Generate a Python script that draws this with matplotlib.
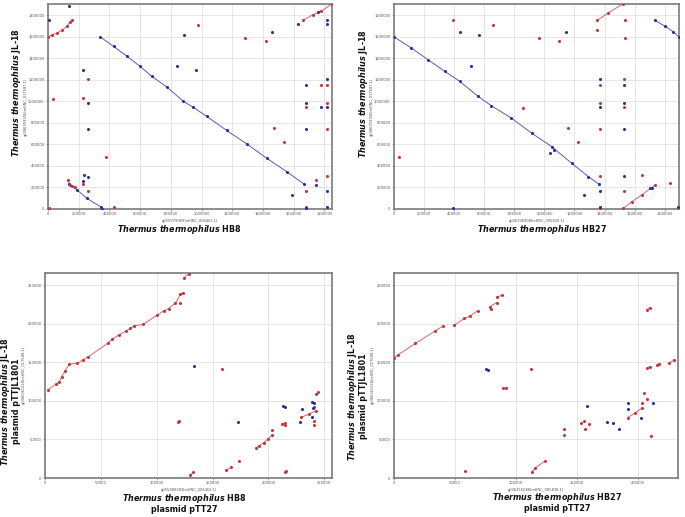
import matplotlib
matplotlib.use("Agg")
import matplotlib.pyplot as plt
from matplotlib.ticker import MultipleLocator, FuncFormatter
import numpy as np

plt.rcParams['font.family'] = ['DejaVu Sans']
plt.rcParams['mathtext.fontset'] = 'custom'
plt.rcParams['mathtext.it'] = 'DejaVu Sans:italic:bold'
plt.rcParams['mathtext.rm'] = 'DejaVu Sans:bold'

# genome lengths (bp)
len_hb8 = 1849742
len_hb27 = 1894877
len_jl18 = 1902595
len_pTT27_hb8 = 256992
len_pTT27_hb27 = 232605
len_pTTJL1801 = 265886

# ---- HB8 chromosome vs JL-18 chromosome (kb) ----
tl_red_segs = [
    ([0, 26, 58.5, 91, 123.5, 145, 156], [1597, 1616, 1634, 1659, 1696, 1740, 1752]),
    ([130, 141, 156, 178], [270, 223, 214, 202]),
    ([1662, 1727, 1781, 1851], [1752, 1805, 1836, 1907]),
]
tl_blue_segs = [
    ([340, 427, 514, 600, 676, 774, 882, 947, 1034, 1164, 1294, 1425, 1554, 1666],
     [1597, 1510, 1417, 1324, 1231, 1132, 999, 943, 859, 729, 605, 471, 347, 233]),
    ([134, 189, 254, 347, 351], [229, 177, 99, 16, 0]),
]
tl_red_x = [975, 1283, 1417, 258, 30, 225, 379, 225, 258, 4, 433, 1679, 1679, 1775, 1820,
            1820, 1820, 1820, 1744, 1679, 1474, 1539]
tl_red_y = [1706, 1588, 1563, 1206, 1023, 1026, 487, 229, 171, 12, 16, 171, 946, 1147, 1147,
            983, 744, 307, 267, 22, 750, 626]
tl_blue_x = [139, 4, 888, 1461, 1630, 1760, 1820, 1820, 839, 962, 225, 258, 258, 236, 258,
             225, 1586, 1679, 1679, 1679, 1775, 1820, 1820, 1820, 1744, 1679, 1820]
tl_blue_y = [1882, 1758, 1619, 1644, 1721, 1827, 1758, 1721, 1324, 1293, 1293, 983, 744, 316,
             301, 260, 130, 1147, 983, 744, 946, 1206, 946, 171, 226, 6, 22]

# ---- HB27 chromosome vs JL-18 chromosome (kb) ----
tr_red_segs = [
    ([1352, 1425, 1525], [1752, 1820, 1907]),
    ([1525, 1581, 1647, 1736], [6, 68, 130, 223]),
]
tr_blue_segs = [
    ([0, 115, 226, 337, 437, 559, 648, 781, 915, 1048, 1181, 1292, 1363],
     [1597, 1495, 1386, 1278, 1185, 1045, 958, 843, 704, 580, 425, 301, 229]),
    ([1732, 1803, 1858, 1895], [1752, 1696, 1644, 1597]),
]
tr_red_x = [393, 655, 966, 1099, 1348, 1536, 1536, 1532, 1370, 1370, 1532, 859, 1154, 1370,
            1221, 33, 1370, 1647, 1532, 1836, 1370]
tr_red_y = [1758, 1706, 1588, 1563, 1659, 1758, 1588, 1206, 1147, 983, 946, 936, 750, 744,
            626, 487, 307, 316, 171, 239, 12]
tr_blue_x = [437, 566, 1143, 515, 1370, 1532, 1532, 1370, 1532, 1037, 1066, 1532, 1370, 1265,
             389, 1370, 1891, 1703, 1714]
tr_blue_y = [1644, 1619, 1644, 1324, 1206, 1147, 983, 946, 744, 518, 549, 307, 171, 133,
             6, 22, 16, 192, 198]

# ---- HB8 pTT27 vs JL-18 pTTJL1801 (kb) ----
bl_red_segs = [
    ([2.4, 9.9, 12.9, 15, 18, 21.9, 29, 33.8, 38.9, 56, 59.9, 65.9, 72.8, 76.3, 79.9, 87.7,
      100.3, 106.3, 110.8, 116.8, 121.3, 123.7],
     [114.2, 122, 125, 131.5, 139.2, 147.8, 148.7, 153, 157.3, 174.6, 179.7, 185.3, 190.9,
      194, 197.4, 199.1, 211.2, 216.8, 219.8, 227.1, 238.3, 240.5]),
    ([124.3, 128.7], [259.5, 265]),
    ([119.2, 120.4], [72.4, 74.1]),
    ([130.2, 132.6], [4.3, 7.3]),
    ([161.7, 166.8], [9.9, 14.2]),
    ([188.6, 192, 196, 200, 203.6], [38.8, 42, 46, 51, 56]),
    ([212.6, 215], [70.3, 71.1]),
    ([215, 215.6], [7.8, 8.6]),
    ([229.6, 236, 242.5], [78.9, 82.5, 87.5]),
    ([242.5, 244.9], [108.6, 111.2]),
]
bl_red_x = [121.3, 158.7, 173.6, 203.6, 215, 241, 241, 241]
bl_red_y = [227.1, 140.9, 21.6, 62.5, 68.9, 92.7, 73.3, 69]
bl_blue_x = [133.5, 173, 213.5, 214.7, 228.4, 229.9, 239.5, 239.5, 241, 240.4]
bl_blue_y = [145.2, 72.4, 94, 92.7, 72, 89.6, 99.1, 78.9, 97, 90.5]

# ---- HB27 pTT27 vs JL-18 pTTJL1801 (kb) ----
br_red_segs = [
    ([0, 3, 17.6, 33.8, 40.5], [155.2, 159.5, 174.6, 190.9, 197.4]),
    ([49.5, 57.6, 62.4, 68.4], [198.3, 206.9, 210.3, 216.8]),
    ([78.4, 84.1], [222, 227.6]),
    ([84.6, 88.7], [235, 237]),
    ([89.5, 91.9], [116.4, 117.2]),
    ([113, 115.7, 123.8], [7.8, 12.9, 22.4]),
    ([191.4, 197, 203], [78.4, 84, 90.5]),
    ([207, 209.5], [218.5, 220.7]),
    ([207.6, 209.5], [143.1, 144.4]),
    ([215.7, 217], [146.5, 147.8]),
    ([225.2, 229.2], [148.7, 153]),
]
br_red_x = [79.2, 112.4, 58.1, 139.5, 139.5, 153.5, 155.4, 156.2, 159.5, 203.5, 204.9, 207.6,
            210.3]
br_red_y = [219, 140.9, 8.6, 56, 63.4, 71.1, 74.1, 63.4, 70.3, 97, 110.8, 102.1, 54.7]
br_blue_x = [75.1, 77, 158.4, 174.6, 179.7, 184.1, 191.4, 191.9, 202.7, 212.2]
br_blue_y = [141.4, 140, 93.5, 72, 71.1, 63.4, 97, 89.6, 78.4, 97]

red = '#c8323a'
red_line = '#d4666b'
blue = '#2b2b9c'
blue_line = '#5a5ab8'


def draw_panel(ax, red_segs, blue_segs, rx, ry, bx, by, xmax, ymax, step, xacc, yacc, wpx, off):
    for xs, ys in blue_segs:
        ax.plot(np.array(xs) * 1000, np.array(ys) * 1000, '-', color=blue_line, lw=0.7, zorder=2)
        ax.plot(np.array(xs) * 1000, np.array(ys) * 1000, 'o', color=blue, ms=2.2, mew=0, zorder=3)
    for xs, ys in red_segs:
        ax.plot(np.array(xs) * 1000, np.array(ys) * 1000, '-', color=red_line, lw=0.7, zorder=2)
        ax.plot(np.array(xs) * 1000, np.array(ys) * 1000, 'o', color=red, ms=2.2, mew=0, zorder=3)
    ax.plot(np.array(rx) * 1000, np.array(ry) * 1000, 'o', color=red, ms=2.2, mew=0, zorder=3)
    ax.plot(np.array(bx) * 1000, np.array(by) * 1000, 'o', color=blue, ms=2.2, mew=0, zorder=3)
    ax.set_xlim(0, xmax)
    ax.set_ylim(0, ymax)
    ax.xaxis.set_major_locator(MultipleLocator(step))
    ax.yaxis.set_major_locator(MultipleLocator(step))
    fmt = FuncFormatter(lambda v, p: '%d' % v)
    ax.xaxis.set_major_formatter(fmt)
    ax.yaxis.set_major_formatter(fmt)
    ax.tick_params(labelsize=2.6, length=1.5, width=0.4, pad=1.0, colors='#555555')
    ax.grid(True, color='#e2e2e2', lw=0.6)
    ax.set_axisbelow(True)
    for s in ax.spines.values():
        s.set_color('#7a7a7a')
        s.set_linewidth(1.2)
    ax.set_xlabel(xacc, fontsize=2.6, color='#555555', labelpad=1.5)
    ax.set_ylabel(yacc, fontsize=2.6, color='#555555')
    ax.yaxis.set_label_coords(-off / wpx, 0.5)


fig = plt.figure(figsize=(6.85, 5.17), dpi=100)
W, H = 685.0, 517.0

ax_tl = fig.add_axes([48 / W, 1 - 209 / H, 284 / W, 205 / H])
ax_tr = fig.add_axes([394 / W, 1 - 209 / H, 285 / W, 205 / H])
ax_bl = fig.add_axes([45 / W, 1 - 478 / H, 287 / W, 205 / H])
ax_br = fig.add_axes([394 / W, 1 - 478 / H, 284 / W, 205 / H])

draw_panel(ax_tl, tl_red_segs, tl_blue_segs, tl_red_x, tl_red_y, tl_blue_x, tl_blue_y,
           len_hb8, len_jl18, 200000, 'gi|55979969|ref|NC_006461.1|',
           'gi|386359306|ref|NC_017587.1|', 284, 20.5)
draw_panel(ax_tr, tr_red_segs, tr_blue_segs, tr_red_x, tr_red_y, tr_blue_x, tr_blue_y,
           len_hb27, len_jl18, 200000, 'gi|46198308|ref|NC_005835.1|',
           'gi|386359306|ref|NC_017587.1|', 285, 20.5)
draw_panel(ax_bl, bl_red_segs, [], bl_red_x, bl_red_y, bl_blue_x, bl_blue_y,
           len_pTT27_hb8, len_pTTJL1801, 50000, 'gi|55980283|ref|NC_006462.1|',
           'gi|386361228|ref|NC_017588.1|', 287, 19)
draw_panel(ax_br, br_red_segs, [], br_red_x, br_red_y, br_blue_x, br_blue_y,
           len_pTT27_hb27, len_pTTJL1801, 50000, 'gi|46255086|ref|NC_005838.1|',
           'gi|386361228|ref|NC_017588.1|', 284, 19)

sp = r'$\mathit{Thermus\ thermophilus}$'
kw = dict(fontsize=5.8, fontweight='bold', ha='center', va='center', color='#111111')
fig.text(179 / W, 1 - 229 / H, sp + ' HB8', **kw)
fig.text(542 / W, 1 - 229 / H, sp + ' HB27', **kw)
fig.text(17 / W, 1 - 92 / H, sp + ' JL-18', rotation=90, **kw)
fig.text(363 / W, 1 - 93 / H, sp + ' JL-18', rotation=90, **kw)

fig.text(184 / W, 1 - 503 / H, sp + ' HB8\nplasmid pTT27', multialignment='center',
         linespacing=1.05, **kw)
fig.text(557 / W, 1 - 502 / H, sp + ' HB27\nplasmid pTT27', multialignment='center',
         linespacing=1.05, **kw)
fig.text(10 / W, 1 - 401 / H, sp + ' JL-18\nplasmid pTTJL1801', rotation=90,
         multialignment='center', linespacing=1.05, **kw)
fig.text(357 / W, 1 - 396 / H, sp + ' JL-18\nplasmid pTTJL1801', rotation=90,
         multialignment='center', linespacing=1.05, **kw)

fig.savefig('out.png', dpi=100)
